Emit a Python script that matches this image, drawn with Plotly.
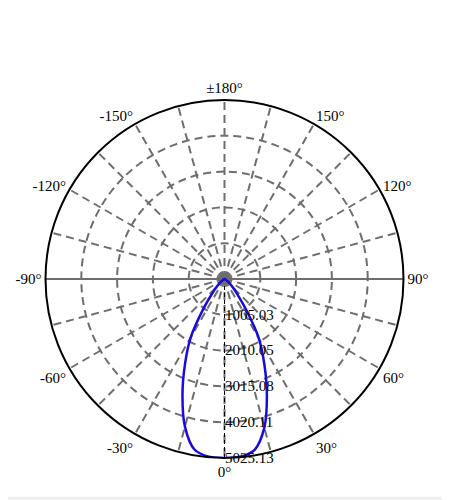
import plotly.graph_objects as go

# luminous intensity curve (C0-C180 plane), symmetric about 0°
angles = [-90, -80, -70, -60, -55, -50, -45, -40, -35, -30, -25, -20, -15, -10, -5,
          0, 5, 10, 15, 20, 25, 30, 35, 40, 45, 50, 55, 60, 70, 80, 90]
intensity = [0, 5, 15, 50, 100, 180, 310, 560, 1060, 1900, 2620, 3450, 4290, 4860, 5010,
             5025, 5010, 4870, 4320, 3480, 2650, 1930, 1080, 570, 320, 185, 100, 50, 15, 5, 0]

r_max = 5025.13
radial_ticks = [1005.03, 2010.05, 3015.08, 4020.11, 5025.13]
angle_ticks = list(range(0, 360, 15))
angle_labels = ['0°', '', '30°', '', '60°', '', '90°', '', '120°', '', '150°', '',
                '±180°', '', '-150°', '', '-120°', '', '-90°', '', '-60°', '', '-30°', '']

fig = go.Figure()

# solid horizontal axis through the centre
fig.add_trace(go.Scatterpolar(
    r=[r_max, 0, r_max], theta=[90, 90, -90], mode='lines',
    line=dict(color='#6e6e6e', width=2), hoverinfo='skip', showlegend=False
))
# thin dashed line on the 0° direction
fig.add_trace(go.Scatterpolar(
    r=[0, r_max], theta=[0, 0], mode='lines',
    line=dict(color='black', width=1, dash='4px,3px'), hoverinfo='skip', showlegend=False
))
# hub at the centre
fig.add_trace(go.Scatterpolar(
    r=[0], theta=[0], mode='markers',
    marker=dict(color='#6e6e6e', size=10), hoverinfo='skip', showlegend=False
))

fig.add_trace(go.Scatterpolar(
    r=intensity, theta=angles, mode='lines',
    line=dict(color='#1a0ae0', width=2.5, shape='spline'),
    showlegend=False
))

fig.update_layout(
    width=450, height=500,
    margin=dict(l=37, r=54, t=92, b=50),
    paper_bgcolor='white',
    font=dict(family='Liberation Serif', size=15, color='black'),
    polar=dict(
        bgcolor='white',
        angularaxis=dict(
            rotation=270, direction='counterclockwise',
            tickmode='array', tickvals=angle_ticks, ticktext=angle_labels,
            showline=True, linecolor='black', linewidth=2,
            gridcolor='#6e6e6e', gridwidth=2, griddash='8px,5px',
            ticks='', tickfont=dict(family='Liberation Serif', size=15)
        ),
        radialaxis=dict(
            range=[0, r_max], angle=-90, tickangle=-90, side='counterclockwise',
            tickmode='array', tickvals=radial_ticks,
            ticktext=[f'{v:.2f}' for v in radial_ticks],
            showline=False, ticks='',
            gridcolor='#6e6e6e', gridwidth=2, griddash='8px,5px',
            tickfont=dict(family='Liberation Serif', size=15)
        )
    ),
    shapes=[dict(type='rect', xref='paper', yref='paper',
                 x0=-0.2, x1=1.2, y0=-0.108, y1=-0.2,
                 fillcolor='#f0f0f0', line=dict(width=0), layer='below')]
)

fig.write_html("out.html")
